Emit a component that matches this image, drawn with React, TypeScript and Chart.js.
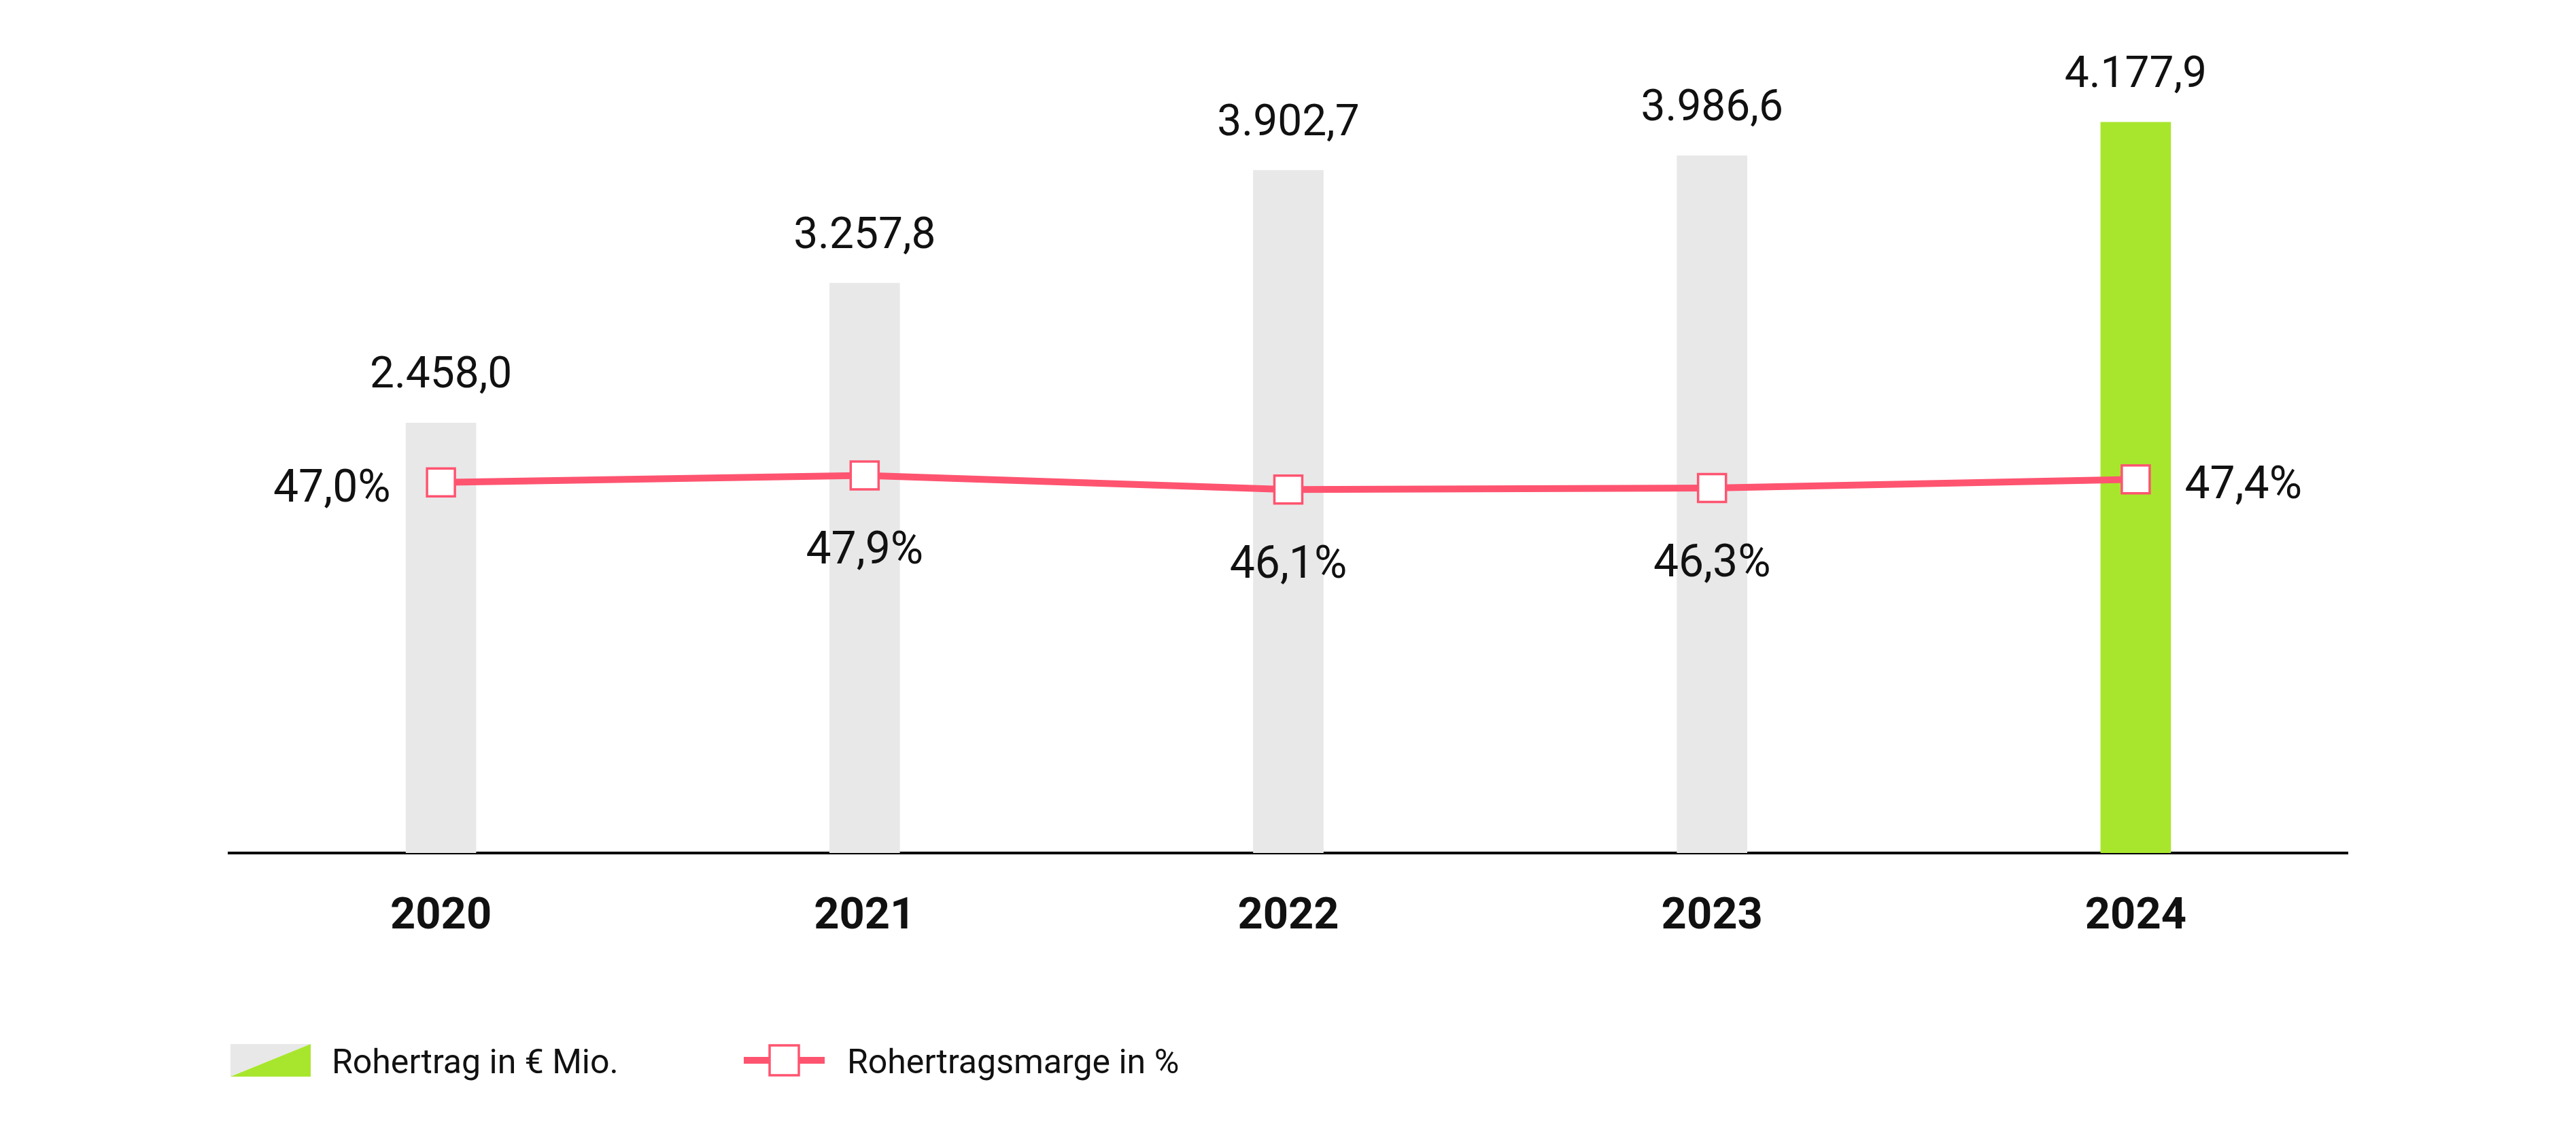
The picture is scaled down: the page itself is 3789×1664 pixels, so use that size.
import React, { useEffect, useRef } from "react";
import { Chart, registerables } from "chart.js";

Chart.register(...registerables);

const years = ["2020", "2021", "2022", "2023", "2024"];
const grossProfit = [2458.0, 3257.8, 3902.7, 3986.6, 4177.9];
const grossMargin = [47.0, 47.9, 46.1, 46.3, 47.4];
const legendLabels = ["Rohertrag in € Mio.", "Rohertragsmarge in %"];

const GREY = "#e8e8e8";
const GREEN = "#a8e62d";
const PINK = "#ff5470";
const TEXT = "#111111";
const FONT = "Roboto, 'Noto Sans', sans-serif";

// german number format: 4.177,9
const fmt = (v: number) => {
  const [int, dec] = v.toFixed(1).split(".");
  return int.replace(/\B(?=(\d{3})+(?!\d))/g, ".") + "," + dec;
};

const labelPlugin = {
  id: "valueLabels",
  afterDatasetsDraw(chart: any) {
    const ctx = chart.ctx;
    ctx.save();
    ctx.fillStyle = TEXT;
    ctx.textBaseline = "alphabetic";

    // bar values above bars
    ctx.font = `64px ${FONT}`;
    ctx.textAlign = "center";
    chart.getDatasetMeta(0).data.forEach((bar: any, i: number) => {
      ctx.fillText(fmt(grossProfit[i]), bar.x, bar.y - 52);
    });

    // margin labels: first left, last right, rest below
    ctx.font = `66px ${FONT}`;
    const pts = chart.getDatasetMeta(1).data;
    pts.forEach((p: any, i: number) => {
      const txt = fmt(grossMargin[i]) + "%";
      if (i === 0) {
        ctx.textAlign = "right";
        ctx.fillText(txt, p.x - 74, p.y + 28);
      } else if (i === pts.length - 1) {
        ctx.textAlign = "left";
        ctx.fillText(txt, p.x + 72, p.y + 28);
      } else {
        ctx.textAlign = "center";
        ctx.fillText(txt, p.x, p.y + 130);
      }
    });
    ctx.restore();
  },
  afterDraw(chart: any) {
    const ctx = chart.ctx;
    ctx.save();

    // bar legend swatch, split grey / green
    ctx.fillStyle = GREY;
    ctx.beginPath();
    ctx.moveTo(339, 1536);
    ctx.lineTo(457, 1536);
    ctx.lineTo(339, 1584);
    ctx.closePath();
    ctx.fill();
    ctx.fillStyle = GREEN;
    ctx.beginPath();
    ctx.moveTo(457, 1536);
    ctx.lineTo(457, 1584);
    ctx.lineTo(339, 1584);
    ctx.closePath();
    ctx.fill();

    // line legend swatch
    ctx.strokeStyle = PINK;
    ctx.lineWidth = 10;
    ctx.beginPath();
    ctx.moveTo(1094, 1560);
    ctx.lineTo(1213, 1560);
    ctx.stroke();
    ctx.fillStyle = "#ffffff";
    ctx.lineWidth = 3.5;
    ctx.fillRect(1132, 1538, 43, 44);
    ctx.strokeRect(1132, 1538, 43, 44);

    ctx.fillStyle = TEXT;
    ctx.font = `50px ${FONT}`;
    ctx.textAlign = "left";
    ctx.textBaseline = "alphabetic";
    ctx.fillText(legendLabels[0], 488, 1579);
    ctx.fillText(legendLabels[1], 1246, 1579);
    ctx.restore();
  },
};

const App = () => {
  const chartRef = useRef<HTMLCanvasElement>(null);

  useEffect(() => {
    document.body.style.margin = "0";
    const ctx = chartRef.current?.getContext("2d");
    if (!ctx) return;

    const chart = new Chart(ctx, {
      type: "bar",
      data: {
        labels: years,
        datasets: [
          {
            type: "bar",
            label: legendLabels[0],
            data: grossProfit,
            backgroundColor: years.map((_, i) => (i === years.length - 1 ? GREEN : GREY)),
            barThickness: 103,
            yAxisID: "y",
            order: 1,
          },
          {
            type: "line",
            label: legendLabels[1],
            data: grossMargin,
            borderColor: PINK,
            borderWidth: 10,
            tension: 0,
            pointStyle: "rect",
            pointRadius: 29,
            pointBackgroundColor: "#ffffff",
            pointBorderColor: PINK,
            pointBorderWidth: 3.5,
            yAxisID: "y2",
            order: 0,
          },
        ] as any,
      },
      options: {
        animation: false,
        responsive: false,
        devicePixelRatio: 1,
        layout: { padding: { left: 337, right: 336, top: 20, bottom: 0 } },
        plugins: {
          legend: { display: false },
          tooltip: { enabled: false },
        },
        scales: {
          x: {
            grid: { display: false, drawTicks: false },
            border: { display: true, color: "#000000", width: 4 },
            ticks: {
              color: TEXT,
              padding: 56,
              font: { family: FONT, size: 65, weight: "bold" },
            },
            afterFit: (scale: any) => {
              scale.height = 409;
            },
          },
          y: { display: false, min: 0, max: 4750 },
          y2: { display: false, min: 0, max: 105.4, position: "right" },
        },
      },
      plugins: [labelPlugin],
    });

    return () => {
      chart.destroy();
    };
  }, []);

  return (
    <div style={{ width: 3789, height: 1664, background: "#ffffff" }}>
      <canvas ref={chartRef} width={3789} height={1664} style={{ width: 3789, height: 1664 }} />
    </div>
  );
};

export default App;
